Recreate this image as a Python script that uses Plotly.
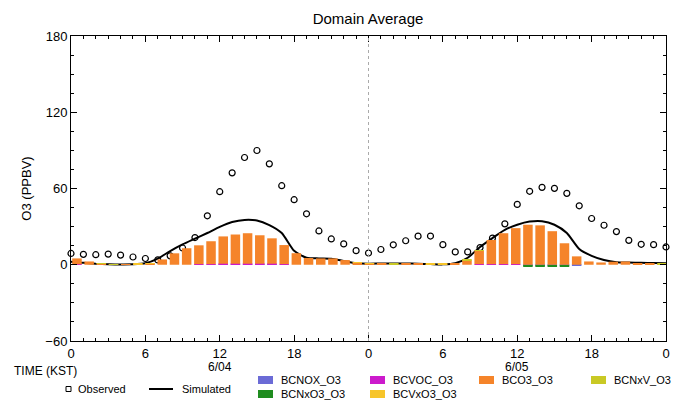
import plotly.graph_objects as go

# ---------------- data ----------------
hours = list(range(49))
tick_hours = [0, 6, 12, 18, 24, 30, 36, 42, 48]
tick_labels = ["0", "6", "12", "18", "0", "6", "12", "18", "0"]
y_ticks = [-60, 0, 60, 120, 180]
date_labels = ["6/04", "6/05"]
date_hours = [12, 36]

observed = [8.9, 8.2, 7.9, 8.4, 7.6, 6.1, 4.9, 3.8, 7.0, 13.2, 21.4, 38.5, 57.5, 72.3, 84.4, 89.9,
            79.4, 62.2, 51.2, 40.1, 26.6, 20.3, 16.4, 11.1, 9.2, 12.0, 15.7, 18.9, 22.5, 22.6,
            15.8, 10.1, 10.1, 13.5, 21.0, 32.2, 47.5, 57.8, 60.9, 60.1, 56.2, 46.4, 36.4, 31.1,
            26.1, 19.2, 16.1, 15.8, 14.0]

simulated = [2.4, 1.5, 0.8, 0.4, 0.2, 0.3, 1.1, 4.8, 10.8, 16.0, 20.5, 25.0, 29.8, 33.6, 35.3, 34.8,
             31.2, 25.0, 11.0, 5.5, 5.0, 4.8, 3.0, 1.3, 0.8, 1.0, 1.0, 1.0, 0.8, 0.5, 0.3, 1.2,
             5.5, 14.0, 21.0, 27.5, 31.5, 34.0, 34.3, 31.5, 25.0, 12.4, 7.0, 3.7, 2.0, 1.8, 1.5,
             1.3, 1.2]

bc_nox = [0, 0, 0, 0, 0, 0, 0, 0, 0, 0, 0, 0, 0.3, 0.3, 0.3, 0.3, 0.3, 0, 0, 0, 0, 0, 0, 0, 0,
          0, 0, 0, 0, 0, 0, 0, 0, 0, 0, 0, 0, -0.4, -0.4, -0.4, -0.4, -0.4, 0, 0, 0, 0, 0, 0, 0]
bc_voc = [0.4, 0, 0, 0, 0, 0, 0, 0, 0, 0, 0.5, 0.5, 0.5, 0.5, 0.5, 0.5, 0.5, 0.5, 0, 0, 0, 0, 0, 0,
          0, 0, 0, 0, 0, 0, 0, 0, 0, 0.5, 0.5, 0.5, 0.5, 0, 0, 0, 0, 0, 0, 0, 0, 0, 0, 0, 0]
bc_o3 = [4.6, 2.6, 1.0, 0.2, 0.3, 0.3, 1.0, 4.2, 9.0, 13.0, 14.8, 18.0, 21.5, 23.0, 24.0, 22.4,
         20.0, 15.0, 9.1, 5.3, 5.0, 5.0, 3.7, 1.5, 0.7, 1.0, 0.4, 1.0, 0.8, 0.4, 0.5, 1.0, 3.5,
         10.6, 19.0, 24.3, 28.3, 31.5, 31.0, 26.4, 16.9, 6.6, 2.6, 1.8, 2.4, 2.6, 1.3, 1.0, 0.2]
bc_nxv = [0, 0, 0.3, 0.3, 0, 0, 0, 0, 0, 0, 0, 0, 0, 0, 0, 0, 0, 0, 0, 0, 0, 0, 0, 0, 0, 0, 0.6,
          0, 0, 0, 0, 0, 0.5, 0.4, 0, 0, 0, 0, 0, 0, 0, 0, 0, 0, 0, 0, 0, 0, 0.8]
bc_nxo3 = [0, 0, 0, 0, 0, 0, 0, 0, 0, 0, 0, 0, 0, 0, 0, 0, 0, 0, 0, 0, 0, 0, 0, 0, 0, 0, 0, 0,
           0, 0, 0, 0, 0, 0, 0, 0, 0, -0.6, -0.6, -0.6, -0.6, 0, 0, 0, 0, 0, 0, 0, 0]
bc_vxo3 = [0, 0, 0, 0, 0, 0.3, 0.3, 0, 0, 0, 0, 0, 0, 0, 0, 0, 0, 0, 0, 0, 0, 0, 0, 0.3, 0.3, 0,
           0, 0, 0, 0.3, 0.3, 0, 0, 0, 0, 0, 0, 0, 0, 0, 0, 0, 0, 0, 0, 0, 0, 0, 0]

bar_series = [
    ("BCNOX_O3", bc_nox, "#6b6bd6"),
    ("BCVOC_O3", bc_voc, "#cc1acc"),
    ("BCO3_O3", bc_o3, "#f5842a"),
    ("BCNxV_O3", bc_nxv, "#c9c925"),
    ("BCNxO3_O3", bc_nxo3, "#1f8c1f"),
    ("BCVxO3_O3", bc_vxo3, "#f7c52a"),
]

FONT = "Liberation Sans, DejaVu Sans, sans-serif"

fig = go.Figure()

for name, vals, col in bar_series:
    fig.add_trace(go.Bar(x=hours, y=vals, name=name, marker=dict(color=col, line=dict(width=0)),
                         xaxis="x2", yaxis="y", showlegend=False))

fig.add_trace(go.Scatter(x=hours, y=simulated, mode="lines", name="Simulated",
                         line=dict(color="black", width=2, shape="spline", smoothing=0.6),
                         showlegend=False))
fig.add_trace(go.Scatter(x=hours, y=observed, mode="markers", name="Observed", cliponaxis=False,
                         marker=dict(symbol="circle-open", size=6, color="black",
                                     line=dict(width=1.2, color="black")),
                         showlegend=False))

# The page body adds an 8px offset; target screen pixels are shifted by it.
OFF = 8
W, H = 700, 400
L, R, T, B = 71 - OFF, 666 - OFF, 36 - OFF, 341 - OFF


def px(X):
    return (X - OFF - L) / (R - L)


def py(Y):
    return (B - (Y - OFF)) / (B - T)


fig.update_layout(
    width=W, height=H,
    margin=dict(l=L, r=W - R, t=T, b=H - B, pad=0, autoexpand=False),
    paper_bgcolor="white", plot_bgcolor="white",
    barmode="relative", bargap=0.22,
    font=dict(family=FONT, size=13, color="black"),
    title=dict(text="Domain Average", x=(368 - OFF) / W, xref="container",
               xanchor="center", y=1 - (19 - OFF) / H, yanchor="middle", automargin=False,
               font=dict(size=15, family=FONT)),
    xaxis=dict(range=[0, 48], tickvals=tick_hours, ticktext=tick_labels, ticks="inside",
               ticklen=6, tickcolor="black", showline=True, linecolor="black", linewidth=1,
               mirror="ticks", showgrid=False, zeroline=False, automargin=False,
               minor=dict(dtick=1, tick0=0, ticks="inside", ticklen=3, tickcolor="black",
                          showgrid=False),
               tickfont=dict(size=13)),
    xaxis2=dict(range=[-0.49, 48.33], overlaying="x", visible=False),
    yaxis=dict(range=[-60, 180], tickvals=y_ticks, ticks="inside", ticklen=6, tickcolor="black",
               showline=True, linecolor="black", linewidth=1, mirror="ticks", showgrid=False,
               zeroline=False, automargin=False,
               minor=dict(dtick=15, tick0=0, ticks="inside", ticklen=3, tickcolor="black",
                          showgrid=False),
               tickfont=dict(size=13),
               title=dict(text="O3 (PPBV)", standoff=10, font=dict(size=13))),
)

fig.add_vline(x=24, line=dict(color="#aaaaaa", width=1, dash="3px,3px"))

ann = []
ann.append(dict(text="TIME (KST)", x=px(12), y=py(371), xanchor="left", yanchor="middle", size=12))
for lab, h in zip(date_labels, date_hours):
    ann.append(dict(text=lab, x=h, xref="x", y=py(367), yref="paper", xanchor="center",
                    yanchor="middle", size=12))
ann.append(dict(text="Observed", x=px(76), y=py(389), xanchor="left", yanchor="middle", size=11))
ann.append(dict(text="Simulated", x=px(180), y=py(389), xanchor="left", yanchor="middle", size=11))

shapes = []
shapes.append(dict(type="rect", xref="paper", yref="paper", x0=px(66), x1=px(71), y0=py(391.5),
                   y1=py(386.5), line=dict(color="black", width=1), fillcolor="white"))
shapes.append(dict(type="line", xref="paper", yref="paper", x0=px(149), x1=px(173), y0=py(389),
                   y1=py(389), line=dict(color="black", width=2)))

legend_pos = {
    "BCNOX_O3": (258, 380), "BCVOC_O3": (370, 380), "BCO3_O3": (479, 380), "BCNxV_O3": (591, 380),
    "BCNxO3_O3": (258, 394), "BCVxO3_O3": (370, 394),
}
for name, vals, col in bar_series:
    X, Y = legend_pos[name]
    shapes.append(dict(type="rect", xref="paper", yref="paper", x0=px(X), x1=px(X + 15),
                       y0=py(Y + 4), y1=py(Y - 4), line=dict(width=0), fillcolor=col))
    ann.append(dict(text=name, x=px(X + 21), y=py(Y), xanchor="left", yanchor="middle", size=11))

for a in ann:
    a.setdefault("xref", "paper")
    a.setdefault("yref", "paper")
    a["showarrow"] = False
    a["font"] = dict(size=a.pop("size"), family=FONT, color="black")

fig.update_layout(annotations=ann, shapes=list(fig.layout.shapes) + shapes)

fig.write_html("out.html")
